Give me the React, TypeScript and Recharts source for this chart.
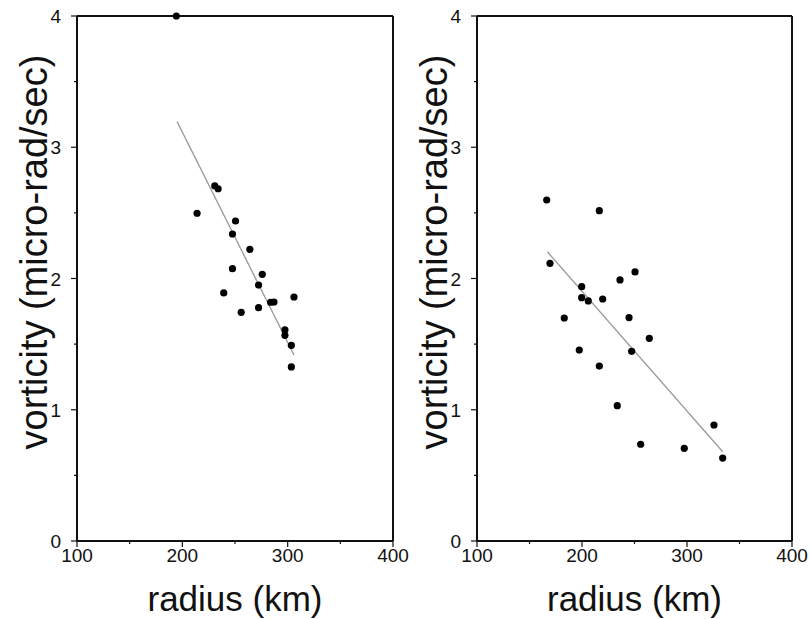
import React from 'react';
import { ScatterChart, Scatter, XAxis, YAxis, Label } from 'recharts';

// values
const leftRadius = [194.3, 230.8, 234, 214, 250.5, 247.6, 264.1, 247.6, 275.9, 272.4, 239.3, 306, 283.8, 287, 272.4, 255.9, 297.4, 297.4, 303.5, 303.5];
const leftVorticity = [4.0, 2.705, 2.684, 2.497, 2.438, 2.339, 2.222, 2.075, 2.032, 1.95, 1.89, 1.859, 1.819, 1.821, 1.778, 1.742, 1.608, 1.567, 1.491, 1.326];
const leftFitRadius = [195, 306];
const leftFitVorticity = [3.195, 1.417];

const rightRadius = [166.4, 216.5, 169.5, 250.5, 236.2, 199.7, 199.7, 206, 219.7, 183.1, 244.8, 264.1, 197.4, 247.3, 216.5, 233.6, 325.7, 255.9, 297.4, 334];
const rightVorticity = [2.598, 2.517, 2.116, 2.05, 1.989, 1.938, 1.854, 1.829, 1.844, 1.699, 1.702, 1.544, 1.455, 1.445, 1.333, 1.031, 0.884, 0.737, 0.706, 0.632];
const rightFitRadius = [167, 334];
const rightFitVorticity = [2.204, 0.68];

const xTicks = [100, 150, 200, 250, 300, 350, 400];
const xMajor = [100, 200, 300, 400];
const yTicks = [0, 0.5, 1, 1.5, 2, 2.5, 3, 3.5, 4];
const yMajor = [0, 1, 2, 3, 4];

const FONT = '"Liberation Sans", Arial, Helvetica, sans-serif';
const INK = '#111';

const zip = (xs: number[], ys: number[]) => xs.map((x, i) => ({ x, y: ys[i] }));

const BottomTick = (props: any) => {
  const { x, y, payload } = props;
  const major = xMajor.includes(payload.value);
  return (
    <g>
      <line x1={x} x2={x} y1={y} y2={y + (major ? 6 : 3)} stroke={INK} strokeWidth={1.2} />
      {major && (
        <text x={x} y={y + 21} textAnchor="middle" fontSize={19} fontFamily={FONT} fill={INK}>
          {payload.value}
        </text>
      )}
    </g>
  );
};

const TopTick = (props: any) => {
  const { x, y, payload } = props;
  const major = xMajor.includes(payload.value);
  return <line x1={x} x2={x} y1={y} y2={y - (major ? 6 : 3)} stroke={INK} strokeWidth={1.2} />;
};

const LeftTick = (props: any) => {
  const { x, y, payload } = props;
  const major = yMajor.includes(payload.value);
  return (
    <g>
      <line x1={x} x2={x - (major ? 6 : 3)} y1={y} y2={y} stroke={INK} strokeWidth={1.2} />
      {major && (
        <text x={x - 16} y={y + 7} textAnchor="end" fontSize={19} fontFamily={FONT} fill={INK}>
          {payload.value}
        </text>
      )}
    </g>
  );
};

const RightTick = (props: any) => {
  const { x, y, payload } = props;
  const major = yMajor.includes(payload.value);
  return <line x1={x} x2={x + (major ? 6 : 3)} y1={y} y2={y} stroke={INK} strokeWidth={1.2} />;
};

const Dot = (props: any) => <circle cx={props.cx} cy={props.cy} r={3.6} fill="#000" />;
const NoDot = () => <g />;

const XTitle = (props: any) => {
  const vb = props.viewBox;
  return (
    <text x={vb.x + vb.width / 2} y={vb.y + 70} textAnchor="middle" fontSize={35} fontFamily={FONT} fill={INK}>
      radius (km)
    </text>
  );
};

const YTitle = (props: any) => {
  const vb = props.viewBox;
  const cx = vb.x + 47;
  const cy = vb.y + 236;
  return (
    <text x={cx} y={cy} transform={`rotate(-90 ${cx} ${cy})`} textAnchor="middle" fontSize={38} fontFamily={FONT} fill={INK}>
      vorticity (micro-rad/sec)
    </text>
  );
};

interface PanelProps {
  radius: number[];
  vorticity: number[];
  fitRadius: number[];
  fitVorticity: number[];
  width: number;
  rightGap: number;
  rightPad: number;
}

const Panel: React.FC<PanelProps> = ({ radius, vorticity, fitRadius, fitVorticity, width, rightGap, rightPad }) => {
  const axisLine = { stroke: INK, strokeWidth: 2 };
  return (
    <ScatterChart width={width} height={619} margin={{ top: 0, right: rightPad, bottom: 0, left: 0 }}>
      <XAxis
        type="number" dataKey="x" domain={[100, 400]} ticks={xTicks} interval={0}
        height={78} tickSize={0} tickMargin={0} tickLine={false} axisLine={axisLine} tick={<BottomTick />}
      >
        <Label content={<XTitle />} />
      </XAxis>
      <XAxis
        xAxisId="top" orientation="top" type="number" domain={[100, 400]} ticks={xTicks} interval={0}
        height={16} tickSize={0} tickMargin={0} tickLine={false} axisLine={axisLine} tick={<TopTick />}
      />
      <YAxis
        type="number" dataKey="y" domain={[0, 4]} ticks={yTicks} interval={0}
        width={77} tickSize={0} tickMargin={0} tickLine={false} axisLine={axisLine} tick={<LeftTick />}
      >
        <Label content={<YTitle />} />
      </YAxis>
      <YAxis
        yAxisId="right" orientation="right" type="number" domain={[0, 4]} ticks={yTicks} interval={0}
        width={rightGap} tickSize={0} tickMargin={0} tickLine={false} axisLine={axisLine} tick={<RightTick />}
      />
      <Scatter
        data={zip(fitRadius, fitVorticity)} line={{ stroke: '#9a9a9a', strokeWidth: 1.3 }}
        shape={<NoDot />} isAnimationActive={false}
      />
      <Scatter data={zip(radius, vorticity)} shape={<Dot />} isAnimationActive={false} />
    </ScatterChart>
  );
};

export default function App() {
  return (
    <div style={{ position: 'absolute', left: 0, top: 0, width: 810, height: 619, background: '#fff', overflow: 'hidden' }}>
      <div style={{ position: 'absolute', left: 0, top: 0 }}>
        <Panel radius={leftRadius} vorticity={leftVorticity} fitRadius={leftFitRadius} fitVorticity={leftFitVorticity}
          width={420} rightGap={12} rightPad={15} />
      </div>
      <div style={{ position: 'absolute', left: 400, top: 0 }}>
        <Panel radius={rightRadius} vorticity={rightVorticity} fitRadius={rightFitRadius} fitVorticity={rightFitVorticity}
          width={410} rightGap={13} rightPad={5} />
      </div>
    </div>
  );
}
